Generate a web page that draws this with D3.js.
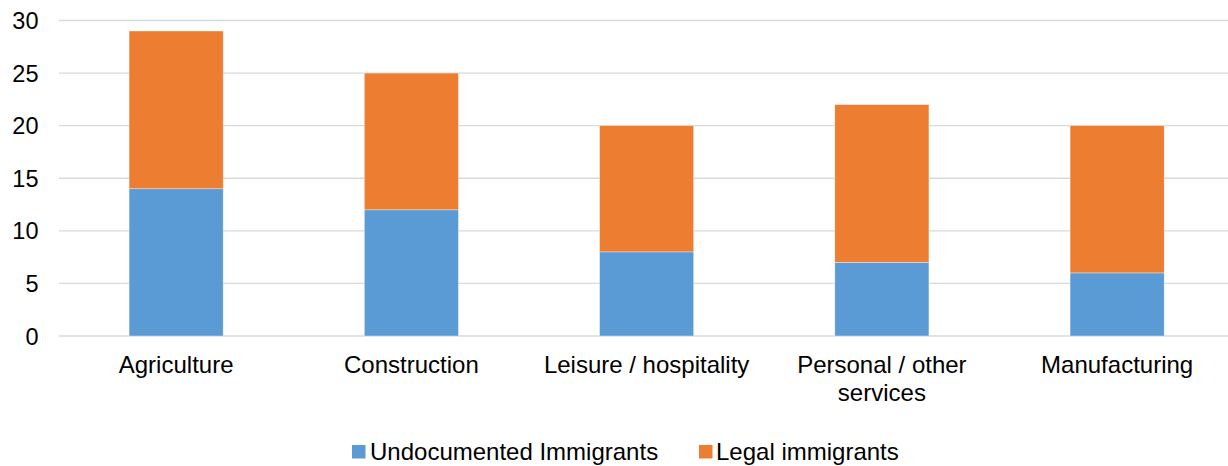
<!DOCTYPE html>
<html><head><meta charset="utf-8">
<script src="https://cdn.jsdelivr.net/npm/d3@7"></script>
<style>body{margin:0;background:#fff;} text{font-family:"Liberation Sans",Arial,sans-serif;fill:#000;}</style>
</head><body>
<svg id="c" width="1228" height="466"></svg>
<script>
const categories = ["Agriculture","Construction","Leisure / hospitality","Personal / other services","Manufacturing"];
const categoryLines = [["Agriculture"],["Construction"],["Leisure / hospitality"],["Personal / other","services"],["Manufacturing"]];
const undocumented = [14,12,8,7,6];
const legal = [15,13,12,15,14];
const seriesNames = ["Undocumented Immigrants","Legal immigrants"];
const colors = ["#5B9BD5","#ED7D31"];
const yTicks = [0,5,10,15,20,25,30];

const svg = d3.select("#c");
const x = d3.scaleBand().domain(categories).range([58.5,1234.75]).paddingInner(0.6).paddingOuter(0.3);
const y = d3.scaleLinear().domain([0,30]).range([336,20.5]);

// gridlines
svg.append("g").selectAll("line").data(yTicks).join("line")
  .attr("x1",59).attr("x2",1228).attr("y1",d=>y(d)).attr("y2",d=>y(d))
  .attr("stroke","#D9D9D9").attr("stroke-width",1.3);

const data = categories.map((c,i)=>({cat:c,u:undocumented[i],l:legal[i]}));
const stack = d3.stack().keys(["u","l"])(data);
svg.append("g").selectAll("g").data(stack).join("g").attr("fill",(d,i)=>colors[i])
  .selectAll("rect").data(d=>d).join("rect")
  .attr("x",d=>x(d.data.cat)).attr("width",x.bandwidth())
  .attr("y",d=>y(d[1])).attr("height",d=>y(d[0])-y(d[1]))
  .attr("stroke","#fff").attr("stroke-width",0.6).attr("stroke-opacity",0.6);

// y axis labels
const ya = svg.append("g").attr("transform","translate(38.5,0)")
  .call(d3.axisLeft(y).tickValues(yTicks).tickSize(0).tickPadding(0));
ya.select(".domain").remove();
ya.selectAll("text").attr("font-size",23.5).attr("dy","0.34em").style("font-family","'Liberation Sans',Arial,sans-serif").attr("fill","#000");

// x labels
const xg = svg.append("g");
categories.forEach((c,i)=>{
  const t = xg.append("text").attr("x",x(c)+x.bandwidth()/2).attr("y",373)
    .attr("text-anchor","middle").attr("font-size",24);
  categoryLines[i].forEach((ln,j)=>t.append("tspan").attr("x",x(c)+x.bandwidth()/2).attr("dy",j?27.5:0).text(ln));
});

// legend
const leg = [{x:352,tx:370},{x:699,tx:716}];
seriesNames.forEach((n,i)=>{
  svg.append("rect").attr("x",leg[i].x).attr("y",445).attr("width",13.5).attr("height",13.5).attr("fill",colors[i]);
  svg.append("text").attr("x",leg[i].tx).attr("y",460).attr("font-size",24).text(n);
});
</script>
</body></html>
